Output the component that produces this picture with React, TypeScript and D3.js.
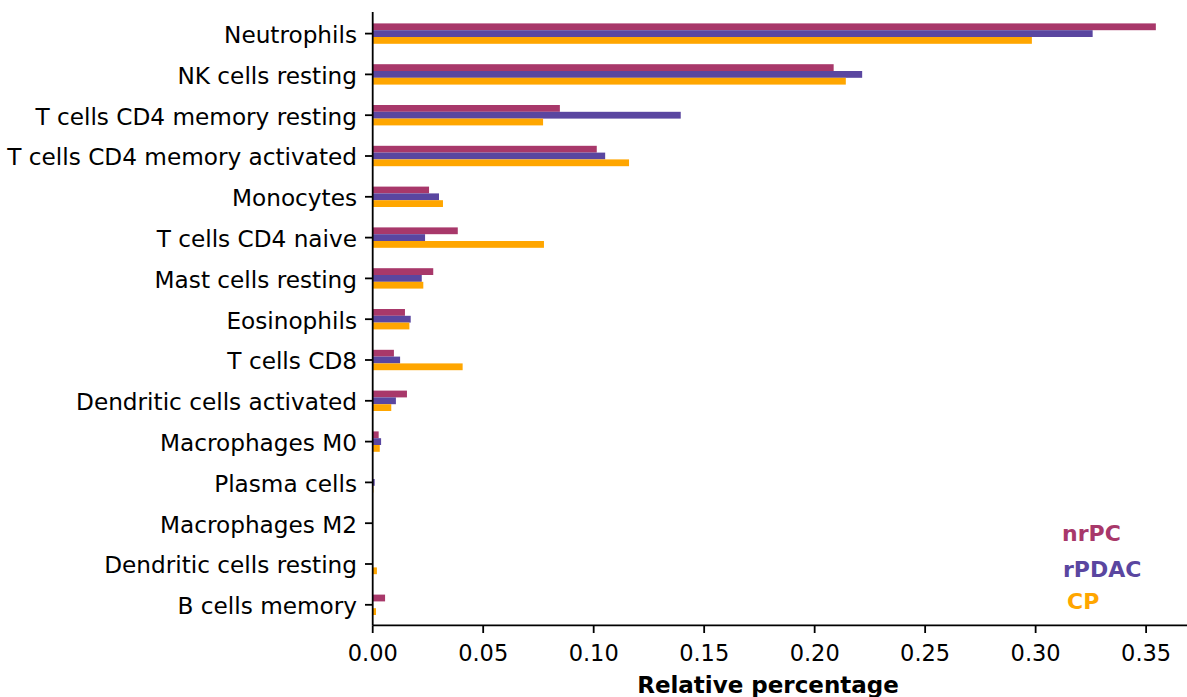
import React from "react";
import * as d3 from "d3";

const categories = [
  "Neutrophils",
  "NK cells resting",
  "T cells CD4 memory resting",
  "T cells CD4 memory activated",
  "Monocytes",
  "T cells CD4 naive",
  "Mast cells resting",
  "Eosinophils",
  "T cells CD8",
  "Dendritic cells activated",
  "Macrophages M0",
  "Plasma cells",
  "Macrophages M2",
  "Dendritic cells resting",
  "B cells memory",
];

const nrPC = [0.3544, 0.2086, 0.0847, 0.1014, 0.0255, 0.0385, 0.0274, 0.0146, 0.0096, 0.0155, 0.0027, 0.0, 0.0, 0.0, 0.0056];
const rPDAC = [0.3258, 0.2215, 0.1394, 0.1052, 0.03, 0.0237, 0.0222, 0.0172, 0.0124, 0.0105, 0.0038, 0.0009, 0.0, 0.0, 0.0];
const CP = [0.2983, 0.2141, 0.0771, 0.116, 0.0318, 0.0775, 0.0229, 0.0166, 0.0407, 0.0084, 0.0032, 0.0003, 0.0, 0.0019, 0.0015];

const xTicks = [0, 0.05, 0.1, 0.15, 0.2, 0.25, 0.3, 0.35];
const seriesNames = ["nrPC", "rPDAC", "CP"];
const seriesColors = ["#a8386a", "#5a46a0", "#ffa600"];

const W = 1187;
const H = 697;
const FONT = "'DejaVu Sans', sans-serif";

export default function App() {
  const x = d3.scaleLinear().domain([0, 0.3685]).range([372.7, 1187]);
  const y = d3.scaleLinear().domain([0, 14]).range([33.6, 33.6 + 14 * 40.8]);
  const bh = y(1 / 6) - y(0);
  const series = [nrPC, rPDAC, CP];
  const axisTop = 12;
  const axisBottom = 625.3;
  const tickLen = 7.7;

  return (
    <svg
      width={W}
      height={H}
      style={{ position: "absolute", left: 0, top: 0, background: "#fff" }}
      fontFamily={FONT}
    >
      {/* bars */}
      {series.map((vals, si) => (
        <g key={seriesNames[si]}>
          {vals.map((v, i) => (
            <rect
              key={i}
              x={x(0)}
              y={y(i) + (si - 1) * bh - bh / 2}
              width={Math.max(0, x(v) - x(0))}
              height={bh}
              fill={seriesColors[si]}
            />
          ))}
        </g>
      ))}

      {/* y axis */}
      <line x1={x(0)} x2={x(0)} y1={axisTop} y2={axisBottom} stroke="#000" strokeWidth={1.8} />
      {categories.map((c, i) => (
        <g key={c}>
          <line x1={x(0) - tickLen} x2={x(0)} y1={y(i)} y2={y(i)} stroke="#000" strokeWidth={1.8} />
          <text
            transform={`translate(${x(0) - tickLen - 8},${y(i) + 9.3}) scale(1,1.01)`}
            textAnchor="end"
            fontSize={23.2}
            fill="#000"
          >
            {c}
          </text>
        </g>
      ))}

      {/* x axis */}
      <line x1={x(0)} x2={W} y1={axisBottom} y2={axisBottom} stroke="#000" strokeWidth={1.8} />
      {xTicks.map((t) => (
        <g key={t}>
          <line x1={x(t)} x2={x(t)} y1={axisBottom} y2={axisBottom + tickLen} stroke="#000" strokeWidth={1.8} />
          <text
            transform={`translate(${x(t)},660.5) scale(1,1.04)`}
            textAnchor="middle"
            fontSize={22.5}
            fill="#000"
          >
            {t.toFixed(2)}
          </text>
        </g>
      ))}
      <text
        transform={`translate(768,692.7) scale(1,1.02)`}
        textAnchor="middle"
        fontSize={23}
        fontWeight="bold"
        fill="#000"
      >
        Relative percentage
      </text>

      {/* legend */}
      {seriesNames.map((n, si) => (
        <text
          key={n}
          transform={`translate(${[1062, 1063, 1067][si]},${[541, 576.7, 609][si]})`}
          fontSize={22}
          fontWeight="bold"
          fill={seriesColors[si]}
        >
          {n}
        </text>
      ))}
    </svg>
  );
}
